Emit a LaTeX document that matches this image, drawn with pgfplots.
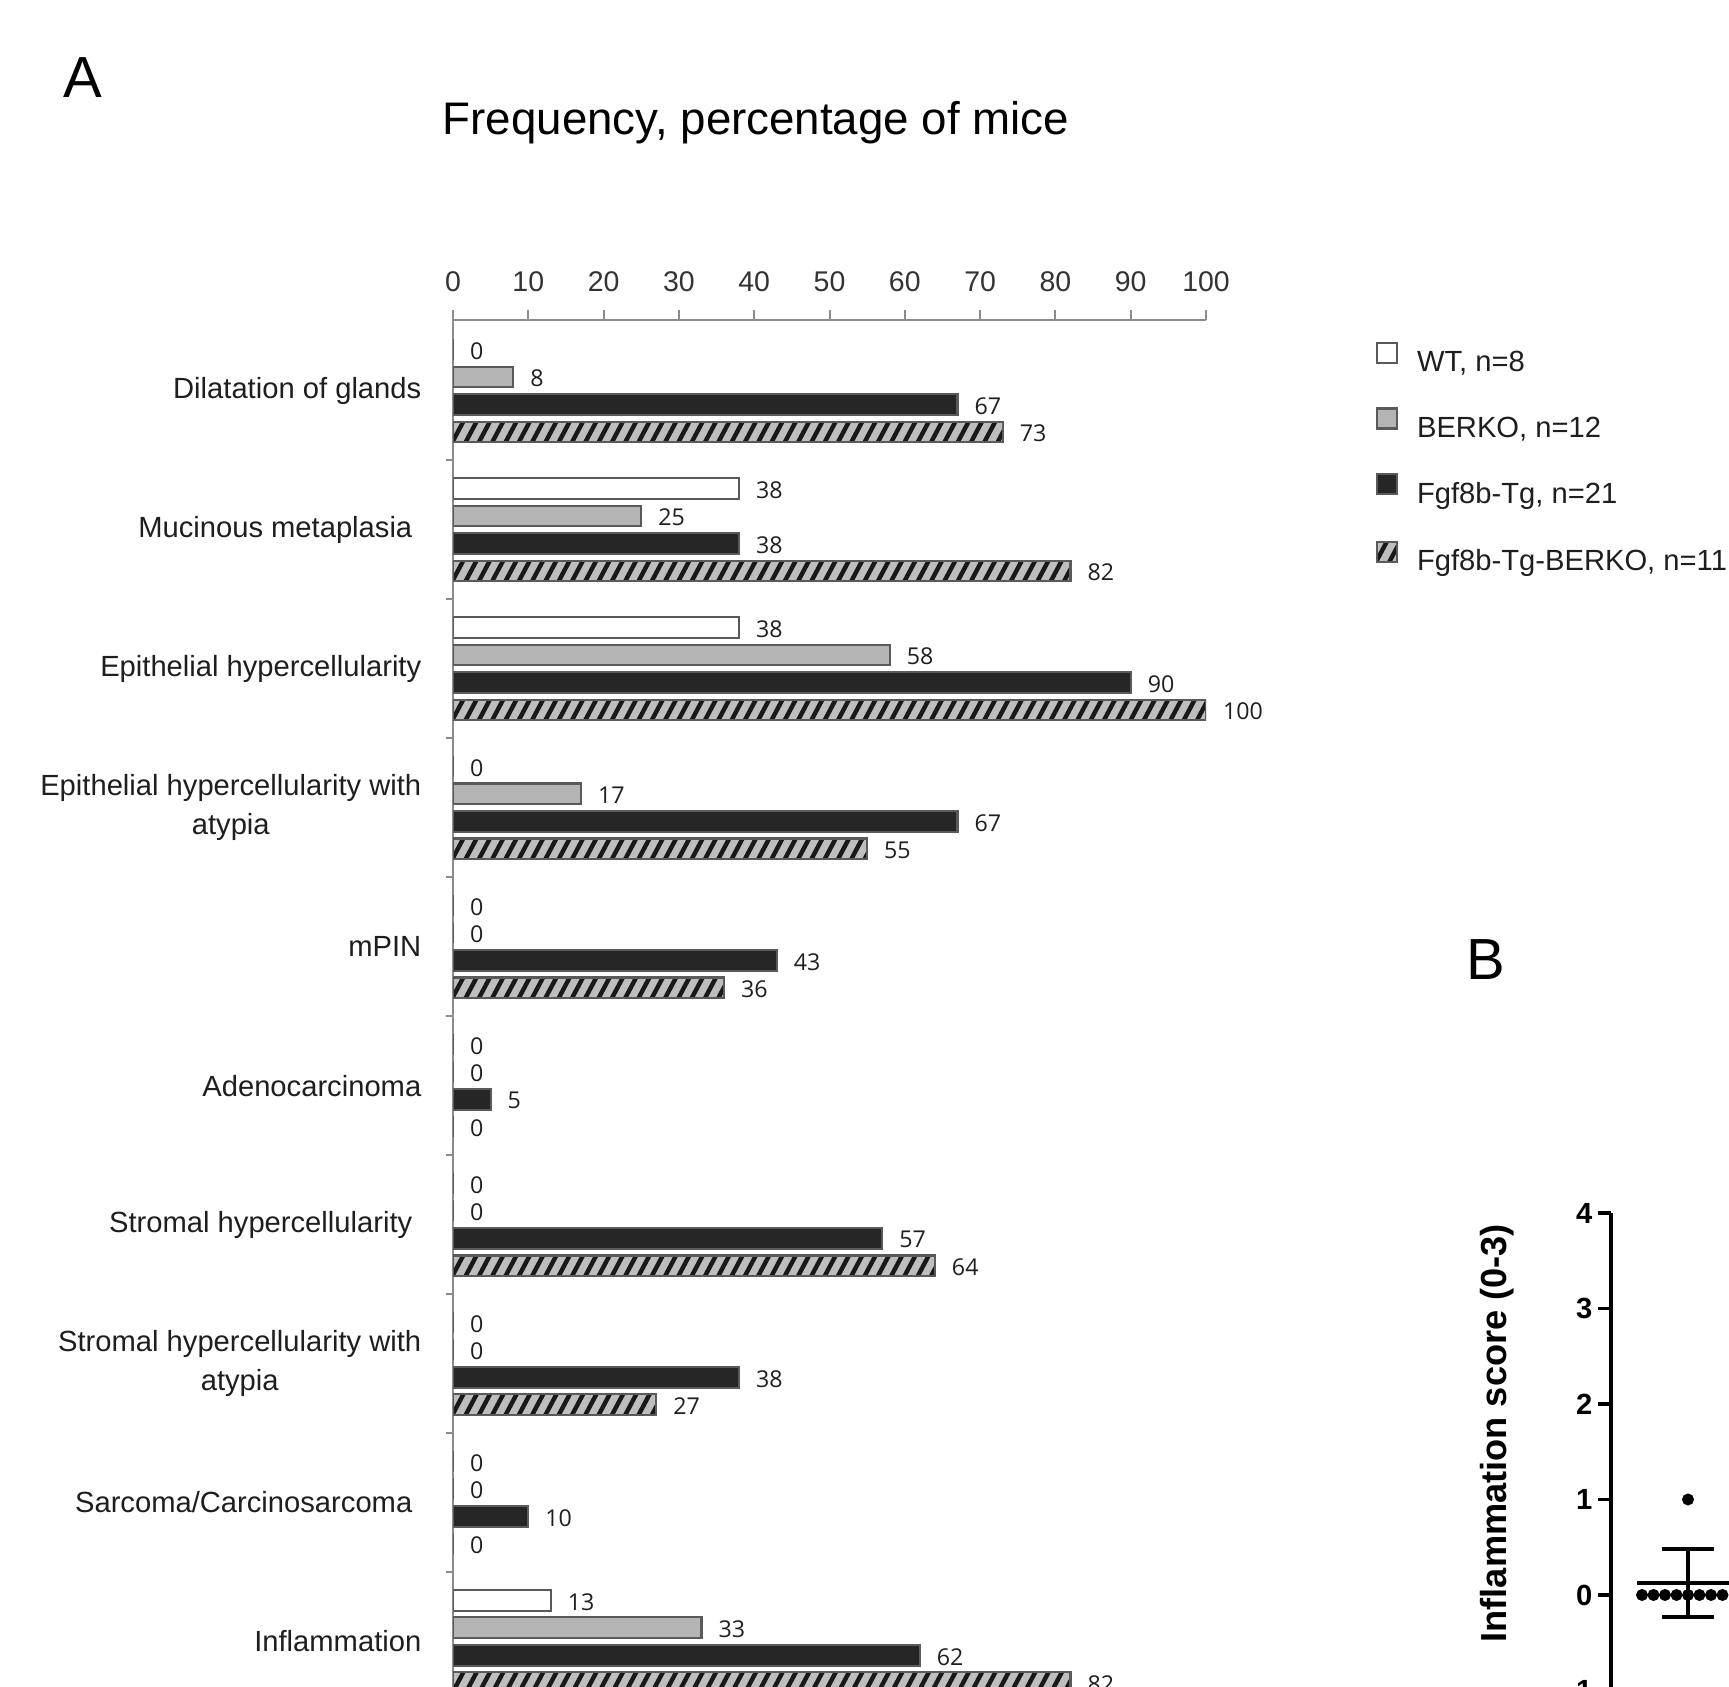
\documentclass[border=0pt]{standalone}
\usepackage{fontspec}
\setmainfont{Liberation Sans}
\newfontfamily\osans{Open Sans}
\usepackage{pgfplots}
\pgfplotsset{compat=1.18}

\definecolor{barborder}{HTML}{5A5A5A}
\definecolor{berko}{HTML}{B4B4B4}
\definecolor{fgf}{HTML}{262626}
\definecolor{hatchbg}{HTML}{BEBEBE}
\definecolor{axgray}{HTML}{8C8C8C}
\definecolor{txt}{HTML}{1E1E1E}

\tikzset{
  hatchfill/.style={path picture={%
    \pgfsetlinewidth{1.25pt}\pgfsetstrokecolor{black!90}\pgfsetbuttcap
    \foreach \j in {0,...,9}{%
    \foreach \k in {0,...,64}{%
      \pgfpathmoveto{\pgfpointadd{\pgfpointanchor{path picture bounding box}{south west}}{\pgfpoint{\k*0.133cm-0.3cm}{\j*1.3897cm-0.05cm}}}%
      \pgfpathlineto{\pgfpointadd{\pgfpointanchor{path picture bounding box}{south west}}{\pgfpoint{\k*0.133cm-0.0183cm}{\j*1.3897cm+0.4798cm}}}%
      \pgfusepath{stroke}%
    }}}},
}

\pgfplotsset{
  /pgf/number format/assume math mode=true,
  hbar/.style={xbar, bar width=0.207cm, bar shift=#1, draw=barborder, line width=0.6pt,
    nodes near coords style={yshift=#1-0.015cm},
    legend image code/.code={\draw[##1] (0cm,0.01cm) rectangle (0.2cm,0.21cm);}},
}

\begin{document}
\begin{tikzpicture}
\useasboundingbox (0,0) rectangle (17.29,16.87);
\clip (0,0) rectangle (17.29,16.87);

\node[font=\fontsize{16.5}{19}\selectfont] at (0.83,16.09) {A};
\node[font=\fontsize{16.5}{19}\selectfont] at (14.86,7.27) {B};
\node[font=\fontsize{13}{15.6}\selectfont] at (7.56,15.64) {Frequency, percentage of mice};

% ---------- Panel A ----------
\begin{axis}[
  at={(4.53cm,13.67cm)}, anchor=north west,
  scale only axis, width=7.53cm, height=13.91cm,
  xmin=0, xmax=100, ymin=-0.5, ymax=9.509,
  enlargelimits=false,
  axis x line*=top, axis y line*=left,
  axis line style={draw=axgray, line width=0.02cm},
  tick align=outside,
  xtick={0,10,...,100},
  major tick length=0.1cm,
  xtick style={draw=axgray, line width=0.02cm},
  xticklabel style={font=\fontsize{8.1}{9.7}\selectfont, text=black!80, anchor=base, inner sep=0pt, yshift=0.185cm},
  ytick={0,...,9},
  ytick style={draw=none},
  yticklabels={Inflammation,
    {Sarcoma/Carcinosarcoma\hspace{0.09cm}},
    {Stromal hypercellularity with\\atypia},
    {Stromal hypercellularity\hspace{0.09cm}},
    Adenocarcinoma, mPIN,
    {Epithelial hypercellularity with\\atypia},
    Epithelial hypercellularity,
    {Mucinous metaplasia\hspace{0.09cm}},
    Dilatation of glands},
  yticklabel style={font=\fontsize{8.3}{11}\selectfont, text=txt, align=center, anchor=east, inner sep=0pt, xshift=-0.21cm},
  extra y ticks={-0.5,0.5,...,8.5},
  extra y tick labels={},
  extra y tick style={major tick length=0.07cm, ytick style={draw=axgray, line width=0.02cm}},
  point meta=x,
  nodes near coords,
  nodes near coords style={font=\osans\fontsize{6.6}{8}\selectfont, text=txt, anchor=west, inner sep=0pt, xshift=0.16cm},
  legend style={at={(1.223,0.985)}, anchor=north west, draw=none, fill=none, inner sep=0pt,
    font=\fontsize{8.3}{10}\selectfont, text=txt, row sep=0.24cm, column sep=0.11cm},
  legend cell align=left,
]
\addplot[hbar=0.4125cm, fill=white] coordinates {
 (0,9) (38,8) (38,7) (0,6) (0,5) (0,4) (0,3) (0,2) (0,1) (13,0)};
\addlegendentry{WT, n=8}
\addplot[hbar=0.1375cm, fill=berko] coordinates {
 (8,9) (25,8) (58,7) (17,6) (0,5) (0,4) (0,3) (0,2) (0,1) (33,0)};
\addlegendentry{BERKO, n=12}
\addplot[hbar=-0.1375cm, fill=fgf] coordinates {
 (67,9) (38,8) (90,7) (67,6) (43,5) (5,4) (57,3) (38,2) (10,1) (62,0)};
\addlegendentry{Fgf8b-Tg, n=21}
\addplot[hbar=-0.4125cm, fill=hatchbg, hatchfill] coordinates {
 (73,9) (82,8) (100,7) (55,6) (36,5) (0,4) (64,3) (27,2) (0,1) (82,0)};
\addlegendentry{Fgf8b-Tg-BERKO, n=11}
\end{axis}

% ---------- Panel B ----------
\begin{axis}[
  at={(16.11cm,-0.035cm)}, anchor=south west,
  scale only axis, width=1.54cm, height=4.775cm,
  xmin=0, xmax=2, ymin=-1, ymax=4,
  axis x line*=bottom, axis y line*=left,
  axis line style={black, line width=0.033cm},
  xtick=\empty,
  ytick={-1,0,1,2,3,4},
  tick align=outside,
  major tick length=0.13cm,
  ytick style={black, line width=0.033cm},
  yticklabel style={font=\bfseries\fontsize{8.3}{10}\selectfont, inner sep=0pt, xshift=-0.05cm},
  ylabel={Inflammation score (0-3)},
  every axis y label/.style={at={(axis description cs:-0.74,0.539)}, rotate=90, anchor=center,
    font=\bfseries\fontsize{10.3}{12}\selectfont},
  clip=false,
]
\addplot[only marks, mark=*, mark size=1.5pt, black] coordinates {
 (0.403,0) (0.552,0) (0.701,0) (0.851,0) (1.0,0) (1.149,0) (1.299,0) (1.448,0) (1.0,1)};
\addplot[black, line width=0.04cm] coordinates {(0.338,0.125) (1.662,0.125)};
\addplot[black, line width=0.045cm] coordinates {(1,-0.229) (1,0.479)};
\addplot[black, line width=0.04cm] coordinates {(0.66,0.479) (1.34,0.479)};
\addplot[black, line width=0.04cm] coordinates {(0.66,-0.229) (1.34,-0.229)};
\end{axis}
\end{tikzpicture}
\end{document}
